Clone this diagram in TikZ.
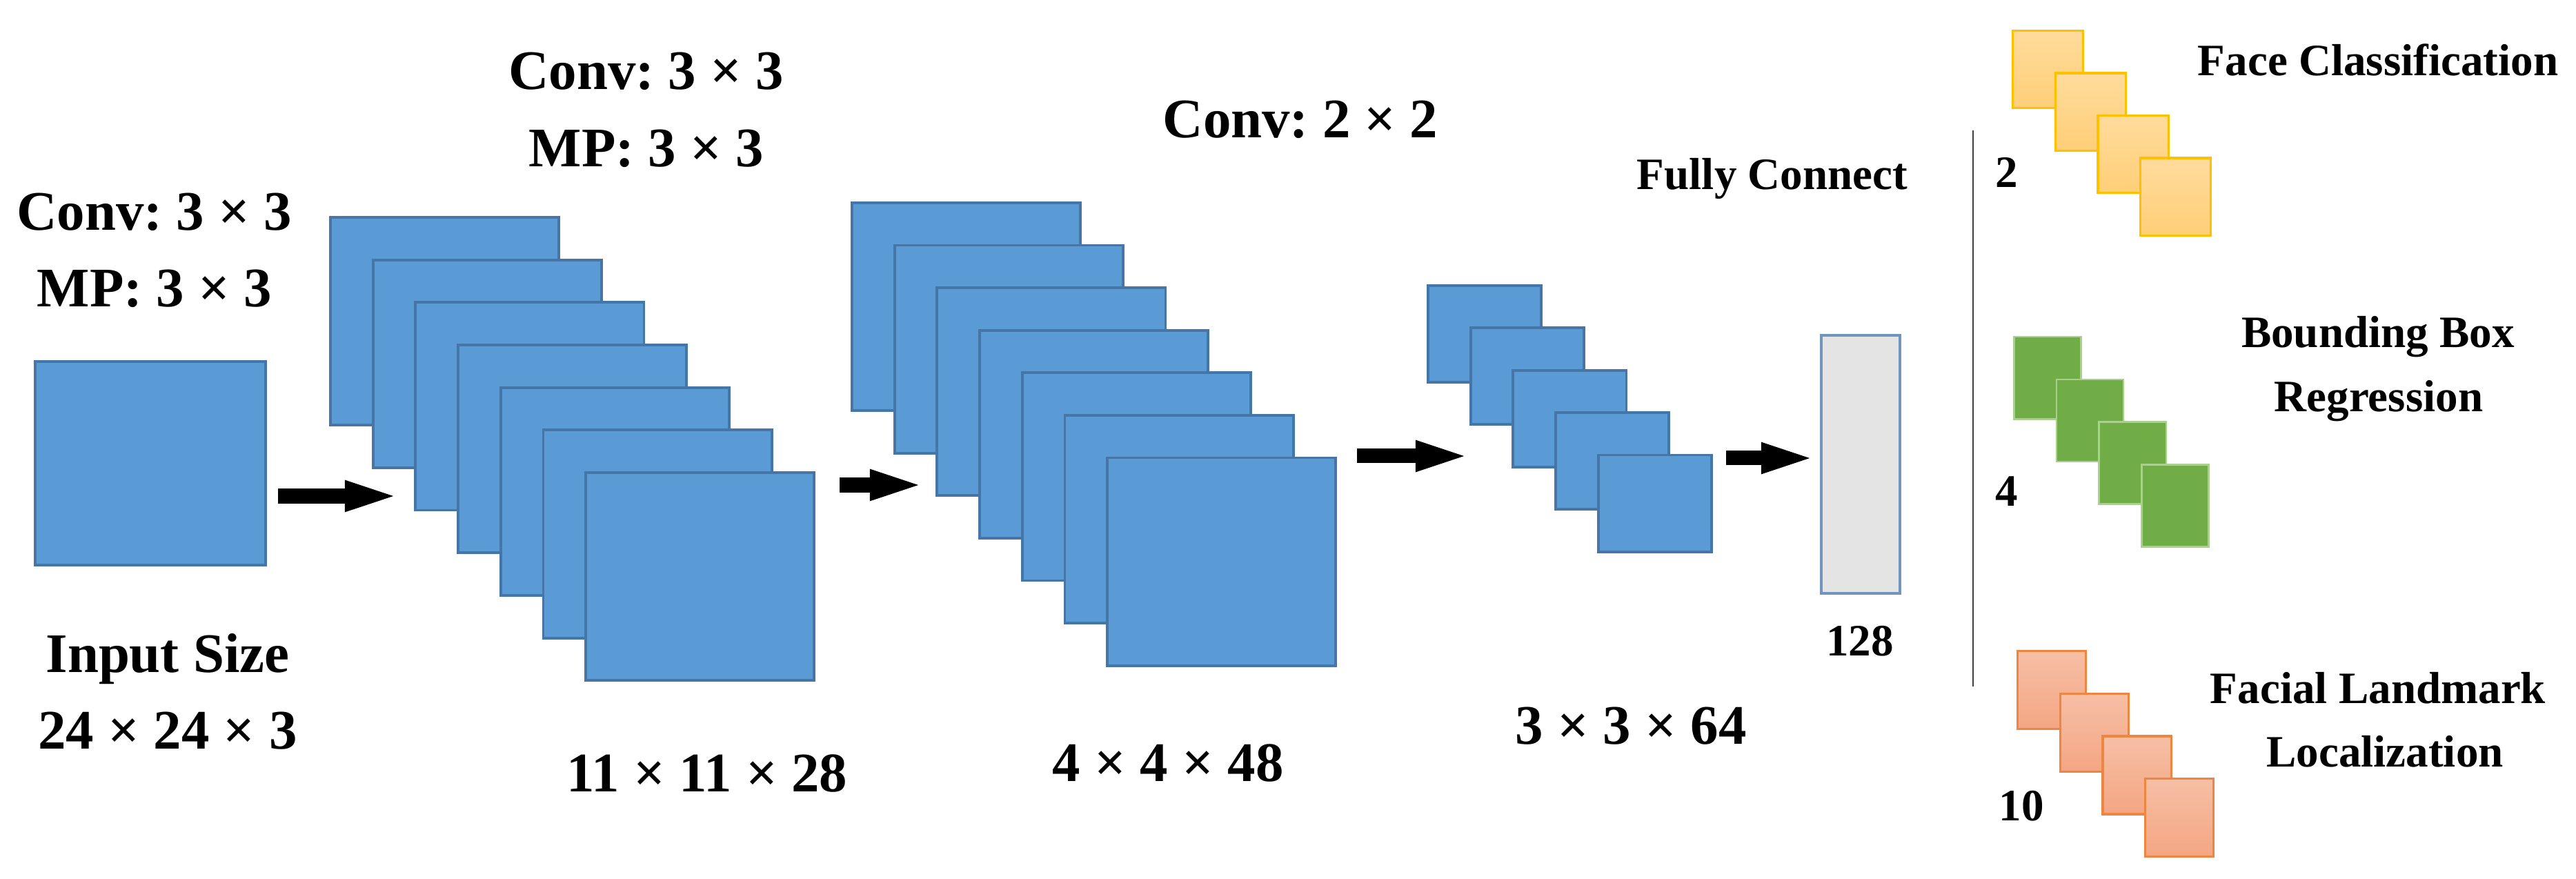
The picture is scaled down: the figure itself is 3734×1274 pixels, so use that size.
\documentclass[tikz,border=0pt]{standalone}
\usepackage{fontspec}
\setmainfont{Liberation Serif}
\usetikzlibrary{arrows.meta}
\definecolor{blueF}{HTML}{5B9BD5}
\definecolor{blueD}{HTML}{4676A8}
\definecolor{fcF}{HTML}{E4E4E4}
\definecolor{fcD}{HTML}{7096BE}
\definecolor{yelT}{HTML}{FFDB9C}
\definecolor{yelB}{HTML}{FFCF78}
\definecolor{yelD}{HTML}{FFC000}
\definecolor{grnF}{HTML}{70AD47}
\definecolor{grnD}{HTML}{A9D18E}
\definecolor{orT}{HTML}{F6BFA5}
\definecolor{orB}{HTML}{F4A683}
\definecolor{orD}{HTML}{EE8541}
\definecolor{sepC}{HTML}{404040}
\frenchspacing
\begin{document}
\begin{tikzpicture}[x=0.01cm,y=-0.01cm,
  fmap/.style={rectangle, draw=blueD, fill=blueF, line width=1.1pt, inner sep=0pt, anchor=north west},
  bigmap/.style={fmap, minimum width=3.31cm, minimum height=3.01cm},
  smallmap/.style={fmap, minimum width=1.64cm, minimum height=1.40cm},
  inmap/.style={fmap, minimum width=3.34cm, minimum height=2.95cm},
  fcmap/.style={rectangle, draw=fcD, fill=fcF, line width=1pt, inner sep=0pt, anchor=north west, minimum width=1.14cm, minimum height=3.74cm},
  ysq/.style={rectangle, draw=yelD, top color=yelT, bottom color=yelB, line width=0.9pt, inner sep=0pt, anchor=north west, minimum width=1.02cm, minimum height=1.12cm},
  gsq/.style={rectangle, draw=grnD, fill=grnF, line width=0.7pt, inner sep=0pt, anchor=north west, minimum width=0.97cm, minimum height=1.19cm},
  osq/.style={rectangle, draw=orD, top color=orT, bottom color=orB, line width=0.9pt, inner sep=0pt, anchor=north west, minimum width=0.99cm, minimum height=1.13cm},
  biglab/.style={font=\fontsize{23}{28}\selectfont\bfseries, anchor=base, inner sep=0pt},
  smlab/.style={font=\fontsize{18.5}{22}\selectfont\bfseries, anchor=base, inner sep=0pt},
  flow/.style={line width=0.21cm, -{Triangle[length=0.85cm, width=0.38cm]}},
  sepline/.style={draw=sepC, line width=0.8pt}
]
\useasboundingbox (0,0) rectangle (3734,1274);

% input
\node[inmap] (in) at (49,522) {};

% stack 1
\foreach \i in {0,...,6}
  \node[bigmap] (sa\i) at ({477+61.7*\i},{313+61.7*\i}) {};
% stack 2
\foreach \i in {0,...,6}
  \node[bigmap] (sb\i) at ({1233+61.7*\i},{292+61.6*\i}) {};
% stack 3
\foreach \i in {0,...,4}
  \node[smallmap] (sc\i) at ({2068+61.7*\i},{412+61.4*\i}) {};

% fully connected
\node[fcmap] (fc) at (2638,484) {};

% output squares
\foreach \i in {0,...,3}
  \node[ysq] (ya\i) at ({2916+61.7*\i},{43+61.5*\i}) {};
\foreach \i in {0,...,3}
  \node[gsq] (ga\i) at ({2918+61.7*\i},{487+61.7*\i}) {};
\foreach \i in {0,...,3}
  \node[osq] (oa\i) at ({2923+61.7*\i},{942+61.7*\i}) {};

% arrows
\coordinate (a1s) at (403,719);
\coordinate (a1e) at (585,719);
\coordinate (a2s) at (1217,703);
\coordinate (a2e) at (1346,703);
\coordinate (a3s) at (1967,661);
\coordinate (a3e) at (2137,661);
\coordinate (a4s) at (2502,664);
\draw[flow] (a1s) -- (a1e);
\draw[flow] (a2s) -- (a2e);
\draw[flow] (a3s) -- (a3e);
\draw[flow] (a4s) -- (a4s -| fc.west);

% separator
\coordinate (vt) at (2860,189);
\coordinate (vb) at (2860,995);
\draw[sepline] (vt) -- (vb);

% left labels
\node[biglab] (l1a) at (224,334) {Conv: 3 × 3};
\node[biglab] (l1b) at (224,445) {MP: 3 × 3};
\node[biglab] (l2a) at (937,130) {Conv: 3 × 3};
\node[biglab] (l2b) at (937,242) {MP: 3 × 3};
\node[biglab] (l3a) at (1885,200) {Conv: 2 × 2};
\node[biglab] (d0a) at (243,975) {Input Size};
\node[biglab] (d0b) at (243,1085) {24 × 24 × 3};
\node[biglab] (d1) at (1025,1147) {11 × 11 × 28};
\node[biglab] (d2) at (1693,1132) {4 × 4 × 48};
\node[biglab] (d3) at (2364,1078) {3 × 3 × 64};

% right labels
\node[smlab] (fcl) at (2569,275) {Fully Connect};
\node[smlab] (fcn) at (2696,951) {128};
\node[smlab] (n2) at (2909,272) {2};
\node[smlab] (n4) at (2909,734) {4};
\node[smlab] (n10) at (2930,1189) {10};
\node[smlab] (r1) at (3447,110) {Face Classification};
\node[smlab] (r2a) at (3447,504) {Bounding Box};
\node[smlab] (r2b) at (3448,597) {Regression};
\node[smlab] (r3a) at (3447,1020) {Facial Landmark};
\node[smlab] (r3b) at (3457,1111) {Localization};
\end{tikzpicture}
\end{document}
